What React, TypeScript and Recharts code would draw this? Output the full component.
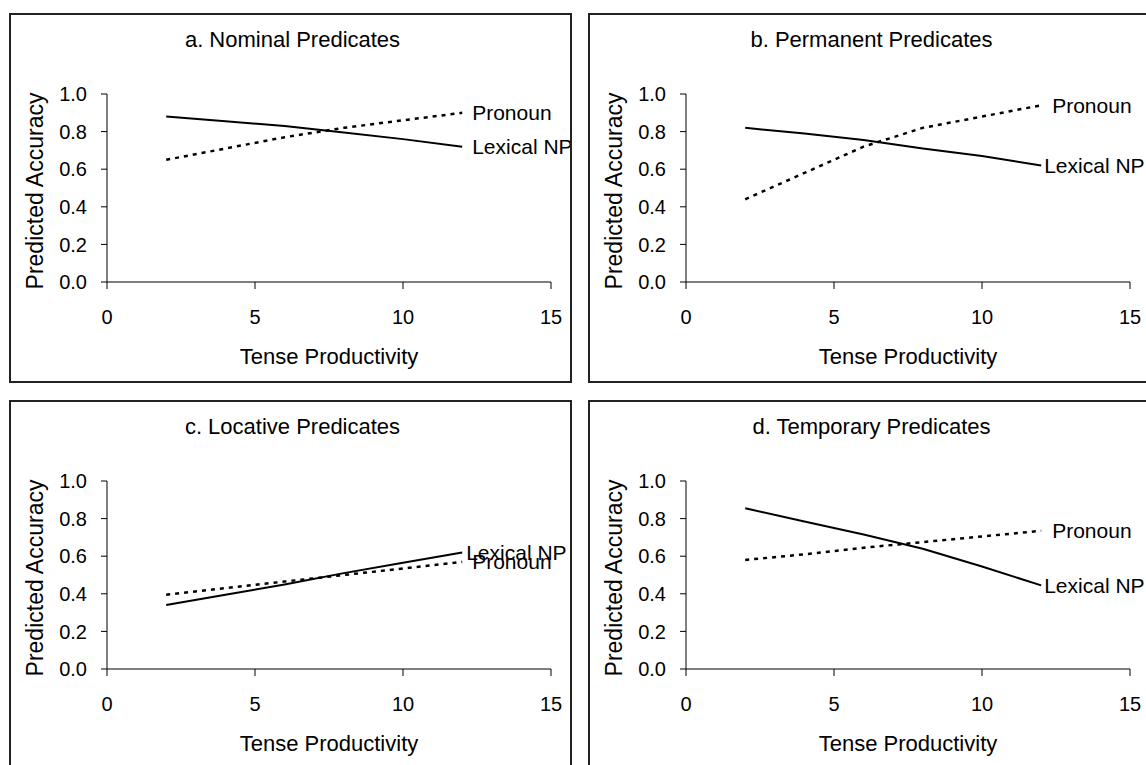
import { LineChart, Line, XAxis, YAxis } from "recharts"

// tense productivity values where the model predictions were plotted
const tense = [2, 4, 6, 8, 10, 12]
const xTicks = [0, 5, 10, 15]
const yTicks = [0, 0.2, 0.4, 0.6, 0.8, 1.0]

const nominalLexical = [0.88, 0.855, 0.83, 0.795, 0.76, 0.72]
const nominalPronoun = [0.65, 0.71, 0.77, 0.82, 0.86, 0.9]
const permanentLexical = [0.82, 0.79, 0.755, 0.71, 0.67, 0.62]
const permanentPronoun = [0.44, 0.58, 0.72, 0.82, 0.88, 0.94]
const locativeLexical = [0.34, 0.395, 0.45, 0.51, 0.565, 0.62]
const locativePronoun = [0.395, 0.43, 0.465, 0.5, 0.535, 0.57]
const temporaryLexical = [0.855, 0.785, 0.715, 0.64, 0.545, 0.445]
const temporaryPronoun = [0.58, 0.61, 0.645, 0.675, 0.705, 0.735]

const FONT = '"Liberation Sans", Arial, sans-serif'
const BOX_W = 563
const BOX_H = 370

const panels = [
  { title: "a. Nominal Predicates", lexical: nominalLexical, pronoun: nominalPronoun, left: 9, top: 13, lexDx: 10, proDx: 10 },
  { title: "b. Permanent Predicates", lexical: permanentLexical, pronoun: permanentPronoun, left: 588, top: 13, lexDx: 3, proDx: 11 },
  { title: "c. Locative Predicates", lexical: locativeLexical, pronoun: locativePronoun, left: 9, top: 400, lexDx: 4, proDx: 10 },
  { title: "d. Temporary Predicates", lexical: temporaryLexical, pronoun: temporaryPronoun, left: 588, top: 400, lexDx: 3, proDx: 11 },
]

const endLabel = (text: string, dx: number) => (props: any) => {
  const { x, y, index } = props
  if (index !== tense.length - 1) return null
  return (
    <text x={x + dx} y={y} dominantBaseline="central" fontSize={21} fill="#000">
      {text}
    </text>
  )
}

function Panel({ p }: { p: (typeof panels)[number] }) {
  const rows = tense.map((t, i) => ({ x: t, lexical: p.lexical[i], pronoun: p.pronoun[i] }))
  return (
    <div style={{ position: "absolute", left: p.left, top: p.top, width: BOX_W, height: BOX_H }}>
      <div
        style={{
          position: "absolute",
          left: 2,
          top: 16,
          width: BOX_W,
          textAlign: "center",
          fontSize: 22,
          lineHeight: "22px",
          color: "#000",
        }}
      >
        {p.title}
      </div>
      <LineChart width={BOX_W} height={BOX_H} data={rows} margin={{ top: 81, right: 21, bottom: 0, left: 0 }}>
        <XAxis
          type="number"
          dataKey="x"
          domain={[0, 15]}
          ticks={xTicks}
          height={101}
          tickSize={7}
          tickMargin={21}
          stroke="#000"
          tick={{ fill: "#000", fontSize: 20 }}
          label={(lp: any) => {
            const vb = lp.viewBox
            return (
              <text x={vb.x + vb.width / 2} y={vb.y + 82} textAnchor="middle" fontSize={22} fill="#000">
                Tense Productivity
              </text>
            )
          }}
        />
        <YAxis
          type="number"
          domain={[0, 1]}
          ticks={yTicks}
          width={98}
          tickSize={6}
          tickMargin={14}
          stroke="#000"
          tick={{ fill: "#000", fontSize: 20 }}
          tickFormatter={(v: number) => v.toFixed(1)}
          label={(lp: any) => {
            const vb = lp.viewBox
            const cx = vb.x + 26
            const cy = vb.y + vb.height / 2 + 3
            return (
              <text
                x={cx}
                y={cy}
                textAnchor="middle"
                dominantBaseline="central"
                fontSize={23}
                fill="#000"
                transform={`rotate(-90 ${cx} ${cy})`}
              >
                Predicted Accuracy
              </text>
            )
          }}
        />
        <Line
          type="linear"
          dataKey="lexical"
          stroke="#000"
          strokeWidth={2}
          dot={false}
          activeDot={false}
          isAnimationActive={false}
          label={endLabel("Lexical NP", p.lexDx)}
        />
        <Line
          type="linear"
          dataKey="pronoun"
          stroke="#000"
          strokeWidth={2.5}
          strokeDasharray="4 5"
          dot={false}
          activeDot={false}
          isAnimationActive={false}
          label={endLabel("Pronoun", p.proDx)}
        />
      </LineChart>
      <div
        style={{
          position: "absolute",
          left: 0,
          top: 0,
          width: BOX_W,
          height: BOX_H,
          boxSizing: "border-box",
          border: "2px solid #222",
          pointerEvents: "none",
        }}
      />
    </div>
  )
}

export default function App() {
  return (
    <div
      style={{
        position: "absolute",
        left: 0,
        top: 0,
        width: 1146,
        height: 765,
        overflow: "hidden",
        background: "#fff",
        fontFamily: FONT,
      }}
    >
      {panels.map((p) => (
        <Panel key={p.title} p={p} />
      ))}
    </div>
  )
}
